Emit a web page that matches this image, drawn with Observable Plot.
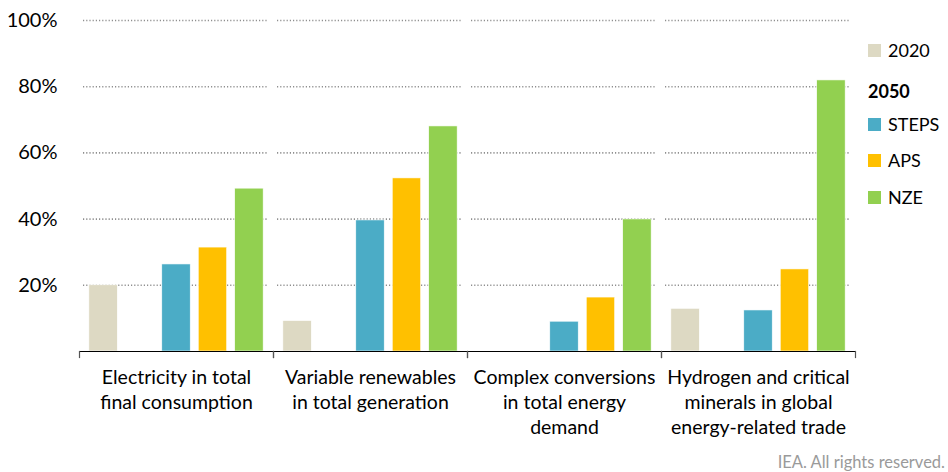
<!DOCTYPE html>
<html>
<head>
<meta charset="utf-8">
<script src="https://cdn.jsdelivr.net/npm/d3@7"></script>
<script src="https://cdn.jsdelivr.net/npm/@observablehq/plot@0.6"></script>
<style>
  html, body { margin: 0; padding: 0; background: #fff; }
  #wrap { position: relative; width: 948px; height: 472px; font-family: Lato, "Open Sans", sans-serif; }
  #legend { position: absolute; left: 868px; top: 0; font-size: 18px; color: #000; }
  .li { position: absolute; white-space: nowrap; display: flex; align-items: center; height: 20px; }
  .sw { width: 13px; height: 13px; margin-right: 7px; display: inline-block; }
  #footer { position: absolute; right: 3px; top: 452px; font-size: 16.5px; color: #9a9a9a; }
</style>
</head>
<body>
<div id="wrap">
  <div id="chart"></div>
  <div id="legend"></div>
  <div id="footer">IEA. All rights reserved.</div>
</div>
<script>
const groups = [
  "Electricity in total final consumption",
  "Variable renewables in total generation",
  "Complex conversions in total energy demand",
  "Hydrogen and critical minerals in global energy-related trade"
];
const groupLabels = [
  "Electricity in total\nfinal consumption",
  "Variable renewables\nin total generation",
  "Complex conversions\nin total energy\ndemand",
  "Hydrogen and critical\nminerals in global\nenergy-related trade"
];
const series = ["2020", "STEPS", "APS", "NZE"];
const slots = ["2020", "gap", "STEPS", "APS", "NZE"];
const v2020  = [20.0, 9.2, null, 12.9];
const vSTEPS = [26.3, 39.6, 9.0, 12.4];
const vAPS   = [31.4, 52.3, 16.3, 24.8];
const vNZE   = [49.2, 68.0, 39.9, 81.9];
const yTicks = [20, 40, 60, 80, 100];
const colors = ["#DDD9C3", "#4BACC6", "#FFC000", "#92D050"];

const valuesBySeries = [v2020, vSTEPS, vAPS, vNZE];
const rows = [];
groups.forEach((g, gi) => {
  series.forEach((s, si) => {
    const v = valuesBySeries[si][gi];
    if (v != null) rows.push({group: g, series: s, value: v});
  });
});

const W = 948, H = 448;
const mTop = 20, mBottom = 97, mLeft = 78, mRight = 93;
const plotH = H - mTop - mBottom;

const chart = Plot.plot({
  width: W,
  height: H,
  marginTop: mTop,
  marginBottom: mBottom,
  marginLeft: mLeft,
  marginRight: mRight,
  style: {fontFamily: "Lato, 'Open Sans', sans-serif", fontSize: "18px", color: "#000", background: "#fff"},
  fx: {domain: groups, padding: 0, label: null, axis: null},
  x: {domain: slots, paddingInner: 0.22, paddingOuter: 0.27, round: false, axis: null},
  y: {domain: [0, 100], label: null},
  color: {domain: series, range: colors},
  marks: [
    Plot.ruleY(yTicks, {stroke: "#8f8f8f", strokeWidth: 1.6, strokeDasharray: "1.2,2", insetLeft: 4, insetRight: 6}),
    Plot.barY(rows, {fx: "group", x: "series", y: "value", fill: "series", stroke: "#fff", strokeWidth: 0.6}),
    Plot.ruleY([0], {stroke: "#000", strokeWidth: 1.2}),
    Plot.frame({anchor: "left", stroke: "#555", strokeWidth: 1.2, insetTop: plotH, insetBottom: -6}),
    Plot.frame({anchor: "right", stroke: "#555", strokeWidth: 1.2, insetTop: plotH, insetBottom: -6}),
    Plot.axisY(yTicks, {tickSize: 0, tickPadding: 22, fontSize: 20, tickFormat: d => d + "%", label: null}),
    Plot.axisFx({anchor: "bottom", tickSize: 0, tickPadding: 15, fontSize: 19.5, lineHeight: 1.28, label: null,
      tickFormat: d => groupLabels[groups.indexOf(d)]})
  ]
});
document.getElementById("chart").appendChild(chart);

// legend
const legend = document.getElementById("legend");
const items = [
  {text: "2020", color: colors[0], y: 50},
  {text: "2050", color: null, y: 91, bold: true},
  {text: "STEPS", color: colors[1], y: 124},
  {text: "APS", color: colors[2], y: 160},
  {text: "NZE", color: colors[3], y: 197}
];
items.forEach(it => {
  const d = document.createElement("div");
  d.className = "li";
  d.style.top = (it.y - 10) + "px";
  if (it.color) {
    const sw = document.createElement("span");
    sw.className = "sw";
    sw.style.background = it.color;
    d.appendChild(sw);
  }
  const t = document.createElement("span");
  t.textContent = it.text;
  if (it.bold) t.style.fontWeight = "bold";
  d.appendChild(t);
  legend.appendChild(d);
});
</script>
</body>
</html>
